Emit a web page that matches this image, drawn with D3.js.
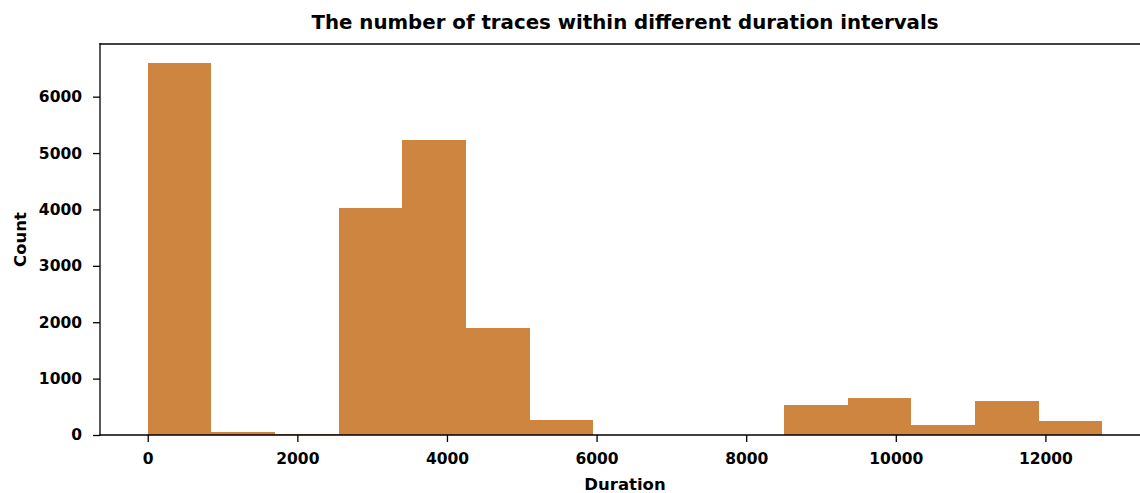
<!DOCTYPE html>
<html>
<head>
<meta charset="utf-8">
<script src="https://cdn.jsdelivr.net/npm/d3@7"></script>
<style>
  body { margin: 0; background: #fff; }
  #chart { width: 1140px; height: 493px; overflow: hidden; }
  text { font-family: "DejaVu Sans", sans-serif; font-weight: bold; fill: #000; }
</style>
</head>
<body>
<div id="chart"></div>
<script>
/* HISTOGRAM DATA */
var binEdges = [0, 851, 1701, 2552, 3403, 4253, 5104, 5955, 6805, 7656, 8507, 9357, 10208, 11059, 11909, 12760];
var binCounts = [6604, 55, 25, 4030, 5237, 1900, 266, 0, 0, 0, 533, 657, 183, 604, 249];
var xTicks = [0, 2000, 4000, 6000, 8000, 10000, 12000];
var yTicks = [0, 1000, 2000, 3000, 4000, 5000, 6000];

var bins = binCounts.map(function(c, i) {
    return { x0: binEdges[i], x1: binEdges[i + 1], count: c };
});

/* SVG CANVAS */
var width = 1140, height = 493;
var margin = { top: 44, left: 100, bottom: 58 };
var plotRight = 1150; // axes runs a bit past the canvas edge

var svg = d3.select("#chart")
    .append("svg")
    .attr("width", width)
    .attr("height", height);

/* SCALES, with matplotlib-ish 5% margins */
var xMin = binEdges[0], xMax = binEdges[binEdges.length - 1];
var xPad = (xMax - xMin) * 0.05;
var x = d3.scaleLinear()
    .domain([xMin - xPad, xMax + xPad])
    .range([margin.left, plotRight]);

var y = d3.scaleLinear()
    .domain([0, d3.max(binCounts) * 1.05])
    .range([height - margin.bottom, margin.top]);

/* BARS */
svg.selectAll("rect.bar")
    .data(bins)
    .enter()
    .append("rect")
        .attr("class", "bar")
        .attr("x", function(d) { return x(d.x0); })
        .attr("width", function(d) { return x(d.x1) - x(d.x0); })
        .attr("y", function(d) { return y(d.count); })
        .attr("height", function(d) { return y(0) - y(d.count); })
        .attr("fill", "#cd853f")
        .attr("shape-rendering", "crispEdges");

/* AXES */
var xAxis = svg.append("g")
    .attr("transform", "translate(0," + y.range()[0] + ")")
    .call(d3.axisBottom(x).tickValues(xTicks).tickFormat(d3.format("d")).tickSize(7).tickPadding(11));

var yAxis = svg.append("g")
    .attr("transform", "translate(" + margin.left + ",0)")
    .call(d3.axisLeft(y).tickValues(yTicks).tickFormat(d3.format("d")).tickSize(7).tickPadding(11));

[xAxis, yAxis].forEach(function(g) {
    g.select(".domain").remove();
    g.selectAll(".tick line").attr("stroke", "#000").attr("stroke-width", 1.3);
    g.selectAll(".tick text")
        .attr("fill", "#000")
        .style("font-size", "15.5px")
        .style("font-family", "'DejaVu Sans', sans-serif")
        .style("font-weight", "bold");
});

/* SPINES: left, bottom, top */
var spines = [
    [margin.left, margin.top, margin.left, y.range()[0]],
    [margin.left, y.range()[0], plotRight, y.range()[0]],
    [margin.left, margin.top, plotRight, margin.top]
];
svg.selectAll("line.spine")
    .data(spines)
    .enter()
    .append("line")
        .attr("class", "spine")
        .attr("x1", function(d) { return d[0]; })
        .attr("y1", function(d) { return d[1]; })
        .attr("x2", function(d) { return d[2]; })
        .attr("y2", function(d) { return d[3]; })
        .attr("stroke", "#000")
        .attr("stroke-width", 1.3)
        .attr("stroke-linecap", "square");

/* TITLE AND LABELS */
svg.append("text")
    .attr("x", (margin.left + plotRight) / 2)
    .attr("y", 29)
    .attr("text-anchor", "middle")
    .style("font-size", "19.8px")
    .text("The number of traces within different duration intervals");

svg.append("text")
    .attr("x", (margin.left + plotRight) / 2)
    .attr("y", 490)
    .attr("text-anchor", "middle")
    .style("font-size", "16.5px")
    .text("Duration");

svg.append("text")
    .attr("transform", "translate(26," + ((margin.top + y.range()[0]) / 2) + ") rotate(-90)")
    .attr("text-anchor", "middle")
    .style("font-size", "16.5px")
    .text("Count");
</script>
</body>
</html>
